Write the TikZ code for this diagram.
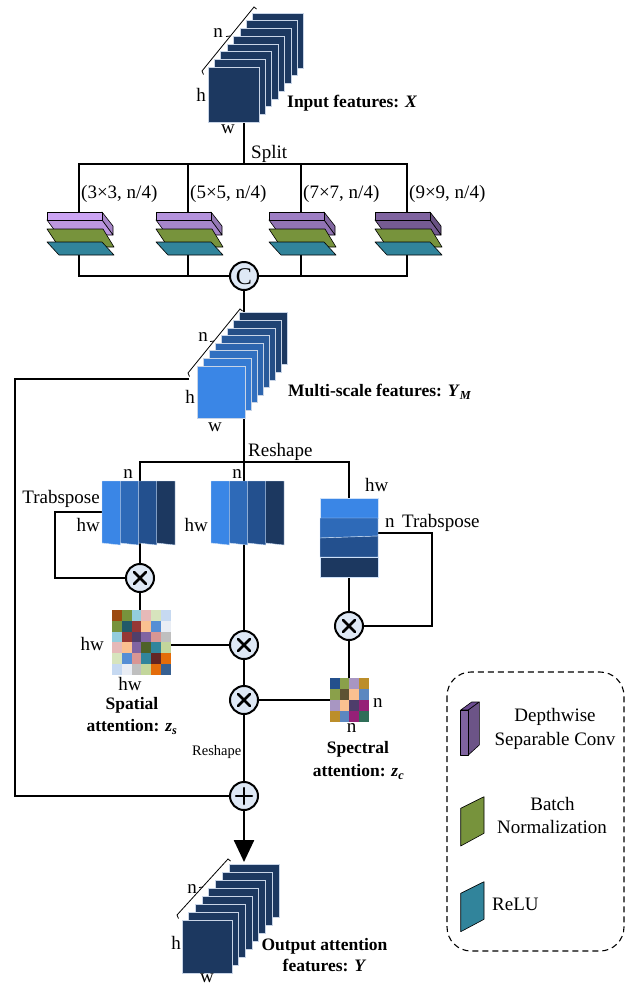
\documentclass[tikz,border=0pt]{standalone}
\usepackage{fontspec}
\setmainfont{Liberation Serif}
\usetikzlibrary{arrows.meta,calc}
\definecolor{navy}{RGB}{28,56,96}
\definecolor{lblue}{RGB}{58,134,230}
\definecolor{mblue}{RGB}{46,106,184}
\definecolor{dblue}{RGB}{35,80,142}
\definecolor{opfill}{RGB}{222,232,245}
\definecolor{sqedge}{RGB}{200,212,230}
\definecolor{purA}{RGB}{204,164,244}
\definecolor{purB}{RGB}{180,146,220}
\definecolor{purC}{RGB}{158,126,196}
\definecolor{purD}{RGB}{127,99,159}
\definecolor{bngreen}{RGB}{119,147,60}
\definecolor{reluteal}{RGB}{49,132,155}
\newcommand{\lblfont}{\fontsize{19}{21}\selectfont}
\newcommand{\boldlbl}{\fontsize{17.5}{20}\selectfont\bfseries}
\newcommand{\smallfont}{\fontsize{14.5}{16}\selectfont}
\newcommand{\dsblock}[2]{%
  \filldraw[blk, fill=#2!82!black] ({#1+23},212) -- ({#1+34},226) -- ({#1+34},235) -- ({#1+23},220) -- cycle;
  \filldraw[blk, fill=#2!92!black] ({#1-32},220) -- ({#1+23},220) -- ({#1+34},235) -- ({#1-21},235) -- cycle;
  \filldraw[blk, fill=#2] ({#1-32},212) rectangle ({#1+23},220);
  \filldraw[blk, fill=bngreen] ({#1-32},229) -- ({#1+24},229) -- ({#1+35},247) -- ({#1-20},247) -- cycle;
  \filldraw[blk, fill=reluteal] ({#1-32},242) -- ({#1+23},242) -- ({#1+35},255) -- ({#1-20},255) -- cycle;
}
% bracket: #1 lower end, #2 upper end, #3 tick point
\newcommand{\dimbracket}[3]{%
  \draw[brk] ($#1+(1.5,3.5)$) -- #1 -- #2 -- ($#2+(2.5,2)$);
  \draw[brk] #3 -- ++(-4,0.5);
}
\begin{document}
\begin{tikzpicture}[x=1pt,y=-1pt,
  conn/.style={line width=2.5pt, line cap=rect, black},
  opcirc/.style={circle, draw=black, line width=2pt, fill=opfill, minimum size=28pt, inner sep=0pt},
  blk/.style={draw=black, line width=0.6pt, line join=round},
  sqr/.style={draw=sqedge, line width=0.7pt},
  strip/.style={draw=white!75!lblue, line width=0.4pt},
  brk/.style={line width=0.8pt, black},
  lbl/.style={font=\lblfont, inner sep=0pt},
  blbl/.style={font=\boldlbl, inner sep=0pt},
  symb/.style={line width=2.5pt, line cap=round}]
\useasboundingbox (0,0) rectangle (635,986);

% ---------- operator nodes ----------
\node[opcirc] (cat) at (244,276) {};
\node[opcirc] (mulL) at (140,578) {};
\node[opcirc] (mulR) at (349,626) {};
\node[opcirc] (mulA) at (244,645) {};
\node[opcirc] (mulB) at (244,700) {};
\node[opcirc] (add) at (244,796) {};

% ---------- coordinates ----------
\coordinate (inB) at (244,122);
\coordinate (sp) at (244,164);
\coordinate (t1) at (79,164);  \coordinate (t2) at (188,164);
\coordinate (t3) at (301,164); \coordinate (t4) at (407,164);
\coordinate (u1) at (79,276);  \coordinate (u2) at (188,276);
\coordinate (u3) at (301,276); \coordinate (u4) at (407,276);
\coordinate (msT) at (244,312);
\coordinate (msL) at (188,379);
\coordinate (lpC) at (15,796);
\coordinate (msB) at (244,418);
\coordinate (rs) at (244,462);
\coordinate (rsL) at (140,462);
\coordinate (rsR) at (349,462);
\coordinate (lsT) at (140,481);
\coordinate (lsB) at (140,544);
\coordinate (rbT) at (349,498);
\coordinate (rbB) at (349,577);
\coordinate (ltA) at (102,512);
\coordinate (ltC) at (55,578);
\coordinate (rtA) at (378,533);
\coordinate (rtC) at (432,626);
\coordinate (spT) at (140,610);
\coordinate (spE) at (171,645);
\coordinate (scT) at (349,678);
\coordinate (scW) at (330,700);
\coordinate (outT) at (244,862);

% ---------- connectors ----------
\draw[conn] (inB) -- (sp);
\draw[conn] (u1) -- (t1) -- (t4) -- (u4);
\draw[conn] (t2) -- (u2);
\draw[conn] (t3) -- (u3);
\draw[conn] (u1) -- (cat);
\draw[conn] (cat) -- (u4);
\draw[conn] (cat) -- (msT);
\draw[conn] (msL) -| (lpC) -- (add);
\draw[conn] (msB) -- (rs);
\draw[conn] (lsT) -- (rsL) -- (rsR) -- (rbT);
\draw[conn] (rs) -- (mulA);
\draw[conn] (lsB) -- (mulL);
\draw[conn] (ltA) -| (ltC) -- (mulL);
\draw[conn] (mulL) -- (spT);
\draw[conn] (spE) -- (mulA);
\draw[conn] (mulA) -- (mulB);
\draw[conn] (scW) -- (mulB);
\draw[conn] (mulB) -- (add);
\draw[conn] (rbB) -- (mulR);
\draw[conn] (rtA) -| (rtC) -- (mulR);
\draw[conn] (mulR) -- (scT);
\draw[line width=2.5pt, -{Triangle[width=20pt,length=22pt]}] (add) -- (outT);

% ---------- operator symbols ----------
\node[font=\fontsize{24}{24}\selectfont, inner sep=0pt] at ($(cat)+(0,1)$) {C};
\foreach \m in {mulL,mulR,mulA,mulB}{
  \draw[symb] ($(\m)+(-6,-6)$) -- ($(\m)+(6,6)$);
  \draw[symb] ($(\m)+(-6,6)$) -- ($(\m)+(6,-6)$);
}
\draw[symb] ($(add)+(-8,0)$) -- ($(add)+(8,0)$);
\draw[symb] ($(add)+(0,-8)$) -- ($(add)+(0,8)$);

% ---------- input stack ----------
\foreach \i in {7,6,...,0}{
  \filldraw[sqr, fill=navy] ({208+6.4*\i},{67-7.7*\i}) rectangle ++(51,55);
}
\dimbracket{(202,71)}{(254,7)}{(230,36)}
\node[lbl] at (218,33) {n};
\node[lbl] at (201,95) {h};
\node[lbl] at (228,129) {w};
\node[blbl, anchor=west] at (287,103) {Input features: \textit{X}};
\node[lbl, anchor=base west] at (251,158) {Split};

% ---------- branches ----------
\dsblock{79}{purA}
\dsblock{188}{purB}
\dsblock{301}{purC}
\dsblock{407}{purD}
\node[lbl, anchor=base west] at (81,198) {(3×3, n/4)};
\node[lbl, anchor=base west] at (190,198) {(5×5, n/4)};
\node[lbl, anchor=base west] at (303,198) {(7×7, n/4)};
\node[lbl, anchor=base west] at (409,198) {(9×9, n/4)};

% ---------- multi-scale stack ----------
\foreach \i in {7,6,...,0}{
  \pgfmathtruncatemacro\p{100*\i/7}
  \filldraw[sqr, fill=navy!\p!lblue] ({197+6.1*\i},{366-7.6*\i}) rectangle ++(48,52);
}
\dimbracket{(188,373)}{(240,309)}{(214,341)}
\node[lbl] at (203,337) {n};
\node[lbl] at (190,397) {h};
\node[lbl] at (215,427) {w};
\node[blbl, anchor=west] at (288,392) {Multi-scale features: \textit{Y}\textsubscript{\textit{M}}};
\node[lbl, anchor=base west] at (248,456) {Reshape};

% ---------- left & middle vertical stacks ----------
\foreach \xs in {102,211}{
  \foreach \k/\cc in {0/lblue,1/mblue,2/dblue,3/navy}{
    \filldraw[strip, fill=\cc] ({\xs+18.25*\k},481) -- ({\xs+18.25*(\k+1)},481) -- ({\xs+18.25*(\k+1)},545) -- ({\xs+18.25*\k},543) -- cycle;
  }
}
\node[lbl] at (128,474) {n};
\node[lbl, anchor=base east] at (100,503) {Trabspose};
\node[lbl, anchor=base east] at (100,531) {hw};
\node[lbl] at (237,474) {n};
\node[lbl, anchor=base east] at (208,531) {hw};

% ---------- right horizontal stack ----------
\filldraw[strip, fill=lblue] (320,498) rectangle (378,518);
\filldraw[strip, fill=mblue] (320,518) -- (378,518) -- (378,536) -- (320,538) -- cycle;
\filldraw[strip, fill=dblue] (320,538) -- (378,536) -- (378,557) -- (320,557) -- cycle;
\filldraw[strip, fill=navy] (320,557) rectangle (378,577);
\node[lbl, anchor=base west] at (365,491.5) {hw};
\node[lbl, anchor=base west] at (385,527) {n};
\node[lbl, anchor=base west] at (402,527) {Trabspose};

% ---------- spatial attention matrix ----------
\foreach \c [count=\k from 0] in {
  9C4A10,77933C,93CDDD,E6B9B8,D7E4BD,C6D9F1,
  77933C,215968,953735,FAC090,558ED5,E9EDF4,
  93CDDD,953735,4F3F6A,8064A2,D99694,BFBFBF,
  E6B9B8,FAC090,8064A2,4F6228,31859C,C3D69B,
  D7E4BD,558ED5,D99694,31859C,632523,E46C0A,
  C6D9F1,E9EDF4,BFBFBF,C3D69B,E46C0A,376092}{
  \pgfmathtruncatemacro\row{floor(\k/6)}
  \pgfmathtruncatemacro\col{\k-6*\row}
  \definecolor{tmpc}{HTML}{\c}
  \fill[tmpc] ({112+9.83*\col},{610+10.83*\row}) rectangle ++(9.95,10.95);
}
\node[lbl, anchor=base east] at (104,650) {hw};
\node[lbl, anchor=base] at (130,690) {hw};
\node[blbl, anchor=base] at (132,709) {Spatial};
\node[blbl, anchor=base] at (132,731.5) {attention: \textit{z}\textsubscript{\textit{s}}};

% ---------- spectral attention matrix ----------
\foreach \c [count=\k from 0] in {
  24508C,8AA04A,A896C2,BC8E2A,
  8AA04A,5E5233,FAC090,5B87C0,
  A896C2,FAC090,4E3D6B,962077,
  BC8E2A,5B87C0,962077,2F6E58}{
  \pgfmathtruncatemacro\row{floor(\k/4)}
  \pgfmathtruncatemacro\col{\k-4*\row}
  \definecolor{tmpc}{HTML}{\c}
  \fill[tmpc] ({330+9.62*\col},{678.3+10.85*\row}) rectangle ++(9.75,10.95);
}
\node[lbl, anchor=base west] at (373,707) {n};
\node[lbl, anchor=base] at (351.5,732.5) {n};
\node[blbl, anchor=base] at (358,753) {Spectral};
\node[blbl, anchor=base] at (358.5,776.5) {attention: \textit{z}\textsubscript{\textit{c}}};

\node[font=\smallfont, inner sep=0pt, anchor=base east] at (241.5,755) {Reshape};

% ---------- output stack ----------
\foreach \i in {7,6,...,0}{
  \filldraw[sqr, fill=navy] ({182+6.7*\i},{920-8*\i}) rectangle ++(50,53);
}
\dimbracket{(177,915)}{(228,859)}{(203,887)}
\node[lbl] at (192,889) {n};
\node[lbl] at (176,943) {h};
\node[lbl] at (207,978) {w};
\node[blbl, anchor=base] at (324.5,950) {Output attention};
\node[blbl, anchor=base] at (324.5,971.5) {features: \textit{Y}};

% ---------- legend ----------
\draw[line width=1.1pt, dash pattern=on 6pt off 4pt, rounded corners=24pt] (447,672) rectangle (624,951);
\filldraw[blk, fill=purD!115!white] (460.7,710) -- (471.7,702) -- (479.3,702) -- (468.3,710) -- cycle;
\filldraw[blk, fill=purD!85!black] (468.3,710) -- (479.3,702) -- (479.3,745) -- (468.3,755) -- cycle;
\filldraw[blk, fill=purD] (460.7,710) rectangle (468.3,755);
\filldraw[blk, fill=bngreen] (460.7,808.3) -- (484,796.7) -- (484,833.3) -- (460.7,846) -- cycle;
\filldraw[blk, fill=reluteal] (460.7,893.3) -- (484,881.7) -- (484,919.3) -- (460.7,931.7) -- cycle;
\node[lbl, anchor=base] at (555,721.5) {Depthwise};
\node[lbl, anchor=base] at (555,745) {Separable Conv};
\node[lbl, anchor=base] at (552.5,810) {Batch};
\node[lbl, anchor=base] at (552,833) {Normalization};
\node[lbl, anchor=base west] at (492,910.5) {ReLU};
\end{tikzpicture}
\end{document}
